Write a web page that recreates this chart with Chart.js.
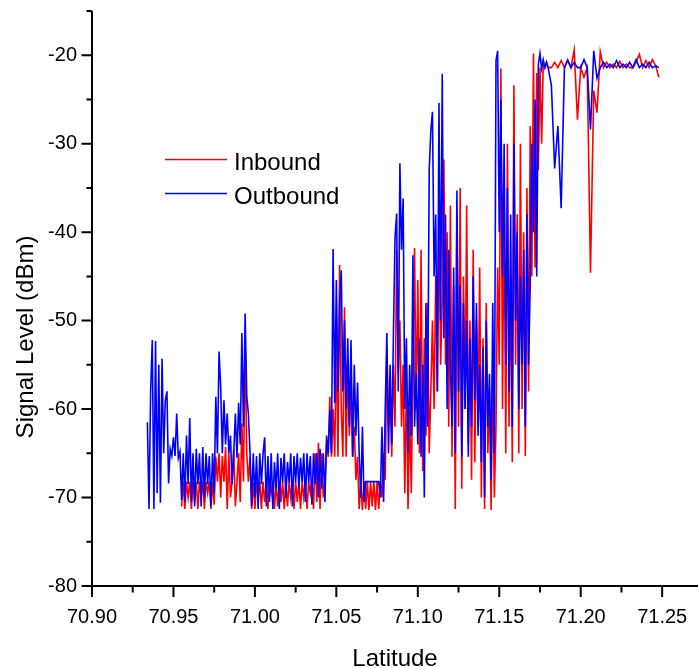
<!DOCTYPE html>
<html>
<head>
<meta charset="utf-8">
<script src="https://cdn.jsdelivr.net/npm/chart.js@4"></script>
<style>
  html, body { margin: 0; padding: 0; background: #fff; }
</style>
</head>
<body>
<canvas id="signalChart" width="698" height="668"></canvas>
<script>
const latitude = [
  70.934, 70.935, 70.936, 70.937, 70.938, 70.939,
  70.940, 70.941, 70.942, 70.943, 70.944, 70.945, 70.946, 70.947, 70.948, 70.949,
  70.950, 70.951, 70.952, 70.953, 70.954, 70.955, 70.956, 70.957, 70.958, 70.959,
  70.960, 70.961, 70.962, 70.963, 70.964, 70.965, 70.966, 70.967, 70.968, 70.969,
  70.970, 70.971, 70.972, 70.973, 70.974, 70.975, 70.976, 70.977, 70.978, 70.979,
  70.980, 70.981, 70.982, 70.983, 70.984, 70.985, 70.986, 70.987, 70.988, 70.989,
  70.990, 70.991, 70.992, 70.993, 70.994, 70.995, 70.996, 70.997, 70.998, 70.999,
  71.000, 71.001, 71.002, 71.003, 71.004, 71.005, 71.006, 71.007, 71.008, 71.009,
  71.010, 71.011, 71.012, 71.013, 71.014, 71.015, 71.016, 71.017, 71.018, 71.019,
  71.020, 71.021, 71.022, 71.023, 71.024, 71.025, 71.026, 71.027, 71.028, 71.029,
  71.030, 71.031, 71.032, 71.033, 71.034, 71.035, 71.036, 71.037, 71.038, 71.039,
  71.040, 71.041, 71.042, 71.043, 71.044, 71.045, 71.046, 71.047, 71.048, 71.049,
  71.050, 71.051, 71.052, 71.053, 71.054, 71.055, 71.056, 71.057, 71.058, 71.059,
  71.060, 71.061, 71.062, 71.063, 71.064, 71.065, 71.066, 71.067, 71.068, 71.069,
  71.070, 71.071, 71.072, 71.073, 71.074, 71.075, 71.076, 71.077, 71.078, 71.079,
  71.080, 71.081, 71.082, 71.083, 71.084, 71.085, 71.086, 71.087, 71.088, 71.089,
  71.090, 71.091, 71.092, 71.093, 71.094, 71.095, 71.096, 71.097, 71.098, 71.099,
  71.100, 71.101, 71.102, 71.103, 71.104, 71.105, 71.106, 71.107, 71.108, 71.109,
  71.110, 71.111, 71.112, 71.113, 71.114, 71.115, 71.116, 71.117, 71.118, 71.119,
  71.120, 71.121, 71.122, 71.123, 71.124, 71.125, 71.126, 71.127, 71.128, 71.129,
  71.130, 71.131, 71.132, 71.133, 71.134, 71.135, 71.136, 71.137, 71.138, 71.139,
  71.140, 71.141, 71.142, 71.143, 71.144, 71.145, 71.146, 71.147, 71.148, 71.149,
  71.150, 71.151, 71.152, 71.153, 71.154, 71.155, 71.156, 71.157, 71.158, 71.159,
  71.160, 71.161, 71.162, 71.163, 71.164, 71.165, 71.166, 71.167, 71.168, 71.169,
  71.170, 71.171, 71.172, 71.173, 71.174, 71.175, 71.176, 71.177, 71.178, 71.179,
  71.180, 71.182, 71.184, 71.186, 71.188, 71.190, 71.192, 71.194, 71.196, 71.198,
  71.200, 71.202, 71.204, 71.206, 71.208, 71.210, 71.212, 71.214, 71.216, 71.218,
  71.220, 71.222, 71.224, 71.226, 71.228, 71.230, 71.232, 71.234, 71.236, 71.238,
  71.240, 71.242, 71.244, 71.246, 71.248
];

const inbound = [
  null, null, null, null, null, null,
  null, null, null, null, null, null, null, null, null, null,
  null, null, null, null, null, -71, -68.2, -71.3, -68.2, -70,
  -68.2, -71.3, -68.2, -70.5, -68.2, -71.3, -68.2, -70, -68.2, -71.3,
  -68.2, -69.5, -68.2, -71.3, -68.2, -70.8, -65.4, -68.2, -65, -70,
  -65.3, -68.2, -64.3, -71.3, -65, -70, -68.2, -64.5, -71, -68.2,
  -65, -70.5, -61.6, -68.2, -52.2, -65, -68.2, -65.4, -71.3, -68.2,
  -71.3, -68.2, -70, -68.2, -71.3, -68.2, -70.5, -68.2, -71.3, -68.2,
  -69.5, -68.2, -71.3, -68.2, -71, -68.2, -70.5, -68.2, -71.3, -68.2,
  -71, -68.2, -70, -68.2, -71.3, -68.2, -70.5, -68.2, -71.3, -68.2,
  -70, -68.2, -71.3, -68.2, -69.5, -68.2, -71.3, -65, -70.5, -63.8,
  -71.3, -65, -70, -68.2, -63.8, -65.4, -58.6, -65.4, -60, -65.4,
  -52, -65.4, -43.7, -60, -65.4, -48.5, -65.4, -55, -63, -56,
  -65.4, -62, -68, -65.4, -71.3, -68.2, -71.4, -68.2, -71.3, -68.2,
  -71.4, -68.2, -71, -68.2, -71.4, -68.2, -71.3, -68.2, -70, -65,
  -68, -53.5, -62, -58, -65.4, -55, -62, -42, -56, -50,
  -62, -55, -69.5, -57, -71.3, -60, -69.5, -55, -41.8, -60,
  -45.4, -65, -42, -67, -52, -63, -48, -65, -58, -50,
  -60, -45, -58, -37, -55, -48, -31.8, -55, -40, -62,
  -37, -65.4, -46, -71.3, -38, -62, -35, -69, -45, -60,
  -37, -64, -50, -68, -42, -66, -50, -62, -44, -70,
  -52, -71.3, -48, -65, -58, -71.4, -55, -70, -62, -44,
  -55, -21.5, -60, -35, -65, -30, -62, -45, -66, -23.4,
  -55, -38, -65, -30, -60, -40, -65.3, -35, -58, -28,
  -45, -19.8, -44, -22, -33, -21.4, -30, -21, -21.4, -20.8,
  -21.4, -21.4, -20.8, -21.4, -20.6, -21.4, -20.5, -21.4, -19.4, -27.3,
  -21.4, -22.5, -21.4, -44.6, -24, -26.5, -19.6, -21.4, -20.8, -21.4,
  -21, -21.4, -20.7, -21.4, -21, -21.4, -21.4, -20.8, -19.9, -21.4,
  -20.6, -21.4, -20.5, -21.2, -22.5
];

const outbound = [
  -61.5, -71.3, -58, -52.2, -71.3, -52.3,
  -69.5, -55, -70.6, -54.3, -65, -59, -58, -68.4, -64.5, -65.3,
  -63.2, -65.3, -60.5, -65.5, -64.8, -70.3, -65, -70.5, -63, -68.5,
  -61, -70.5, -65, -71, -64.5, -68.5, -65, -71, -64.3, -70,
  -65, -68.5, -65.3, -71, -65, -69.5, -58.6, -65, -53.5, -57.5,
  -65, -59, -64, -60.5, -65, -63, -68.5, -65, -60.5, -65.5,
  -59.3, -64, -51.4, -62, -49.2, -58.6, -60.5, -65, -71, -65,
  -70, -65.3, -71.3, -65, -68.5, -65, -63.2, -71, -65.3, -70.5,
  -65, -71.3, -66, -69, -65, -71.3, -65.5, -68.3, -65, -70,
  -66, -68.3, -65, -71, -65.3, -68.3, -65, -69, -65.5, -68.3,
  -65, -70.5, -65, -68.3, -65.3, -70.8, -65, -68.5, -65, -70,
  -64.5, -69, -65, -70.5, -63, -65, -60.1, -65, -41.9, -59.3,
  -45.4, -58, -48, -44.3, -58, -50, -60, -52, -62, -52.2,
  -65.4, -55, -63, -57, -65, -70, -62, -70.5, -68.2, -68.2,
  -68.2, -68.2, -68.2, -68.2, -68.2, -68.2, -68.2, -70, -62, -70.5,
  -60, -51.4, -65, -55, -64, -52, -40.7, -37.9, -58, -32.2,
  -42, -36.2, -60, -52, -65, -55, -63, -42.6, -62, -56,
  -64, -52, -65.4, -55, -70, -48, -62, -33, -28.5, -26.4,
  -45, -38, -58, -25.4, -50, -22.1, -52, -38, -60, -42,
  -55, -62, -44, -65, -35.3, -58, -46, -65.4, -48, -60,
  -50, -65.4, -52, -62, -45, -59, -48, -63, -55, -66,
  -53, -70, -50, -62, -56, -68, -48, -65, -20.6, -19.5,
  -40, -25, -45, -30, -55, -35, -58, -38, -62, -30,
  -50, -40, -60, -45, -55, -42, -62, -38, -55, -46,
  -30, -40, -25, -45, -21, -19.8, -21.5, -20.5, -21.4, -20.8,
  -21.4, -23.4, -32.8, -28, -37.3, -21.4, -20.6, -21.4, -20.8, -21.4,
  -21.4, -20.5, -21.4, -28.4, -19.5, -22.6, -21.4, -20.8, -21.4, -21,
  -21.4, -20.6, -21.4, -21, -21.4, -20.8, -21.4, -20.5, -21.4, -21,
  -21.4, -20.8, -21.4, -21.2, -21.4
];

const xTicks = [70.90, 70.925, 70.95, 70.975, 71.00, 71.025, 71.05, 71.075, 71.10, 71.125, 71.15, 71.175, 71.20, 71.225, 71.25];
const xLabels = ['70.90', '', '70.95', '', '71.00', '', '71.05', '', '71.10', '', '71.15', '', '71.20', '', '71.25'];
const yTicks = [-80, -75, -70, -65, -60, -55, -50, -45, -40, -35, -30, -25, -20, -15];
const yLabels = ['-80', '', '-70', '', '-60', '', '-50', '', '-40', '', '-30', '', '-20', ''];

const FONT = '"Liberation Sans", Arial, sans-serif';

// ticks, axis lines, rotated y title and the in-plot legend
const axesPlugin = {
    id: 'axesPlugin',
    afterDraw(chart) {
        const ctx = chart.ctx;
        const area = chart.chartArea;
        const xs = chart.scales.x;
        const ys = chart.scales.y;

        ctx.save();
        ctx.strokeStyle = '#000';
        ctx.lineWidth = 2;
        ctx.beginPath();
        ctx.moveTo(area.left, area.top);
        ctx.lineTo(area.left, area.bottom);
        ctx.lineTo(area.right, area.bottom);
        xTicks.forEach((v, i) => {
            const px = xs.getPixelForValue(v);
            ctx.moveTo(px, area.bottom);
            ctx.lineTo(px, area.bottom + (i % 2 ? 6.5 : 11));
        });
        yTicks.forEach((v, i) => {
            const py = ys.getPixelForValue(v);
            ctx.moveTo(area.left, py);
            ctx.lineTo(area.left - (i % 2 ? 5.5 : 10.5), py);
        });
        ctx.stroke();

        ctx.fillStyle = '#000';
        ctx.font = '24px ' + FONT;
        ctx.save();
        ctx.translate(33, 337);
        ctx.rotate(-Math.PI / 2);
        ctx.textAlign = 'center';
        ctx.textBaseline = 'alphabetic';
        ctx.fillText('Signal Level (dBm)', 0, 0);
        ctx.restore();

        const items = chart.data.datasets;
        const rows = [159.5, 193.5];
        items.forEach((ds, i) => {
            ctx.strokeStyle = ds.borderColor;
            ctx.lineWidth = 1.5;
            ctx.beginPath();
            ctx.moveTo(165, rows[i]);
            ctx.lineTo(227, rows[i]);
            ctx.stroke();
            ctx.textAlign = 'left';
            ctx.fillText(ds.label, 234, rows[i] + 10);
        });
        ctx.restore();
    }
};

new Chart(document.getElementById('signalChart'), {
    type: 'line',
    data: {
        datasets: [
            {
                label: 'Inbound',
                data: latitude.map((x, i) => ({ x, y: inbound[i] })),
                borderColor: '#ff0000',
                borderWidth: 1.6,
                pointRadius: 0,
                tension: 0,
                order: 2
            },
            {
                label: 'Outbound',
                data: latitude.map((x, i) => ({ x, y: outbound[i] })),
                borderColor: '#0000ff',
                borderWidth: 1.6,
                pointRadius: 0,
                tension: 0,
                order: 1
            }
        ]
    },
    options: {
        responsive: false,
        animation: false,
        events: [],
        layout: { padding: { top: 11, right: 0, bottom: 0, left: 0 } },
        plugins: {
            legend: { display: false },
            tooltip: { enabled: false }
        },
        scales: {
            x: {
                type: 'linear',
                min: 70.90,
                max: 71.272,
                afterBuildTicks: s => { s.ticks = xTicks.map(v => ({ value: v })); },
                afterFit: s => { s.height = 82; s.paddingLeft = 0; s.paddingRight = 0; },
                grid: { display: false, drawTicks: false },
                border: { display: false },
                ticks: {
                    autoSkip: false,
                    maxRotation: 0,
                    minRotation: 0,
                    padding: 19,
                    color: '#000',
                    font: { family: FONT, size: 20 },
                    callback: (v, i) => xLabels[i]
                },
                title: {
                    display: true,
                    text: 'Latitude',
                    color: '#000',
                    font: { family: FONT, size: 24, lineHeight: 0.75 },
                    padding: { top: 0, bottom: 0 }
                }
            },
            y: {
                type: 'linear',
                min: -80,
                max: -15,
                afterBuildTicks: s => { s.ticks = yTicks.map(v => ({ value: v })); },
                afterFit: s => { s.width = 92; s.paddingTop = 0; s.paddingBottom = 0; },
                grid: { display: false, drawTicks: false },
                border: { display: false },
                ticks: {
                    autoSkip: false,
                    padding: 15,
                    color: '#000',
                    font: { family: FONT, size: 20 },
                    callback: (v, i) => yLabels[i]
                }
            }
        }
    },
    plugins: [axesPlugin]
});
</script>
</body>
</html>
